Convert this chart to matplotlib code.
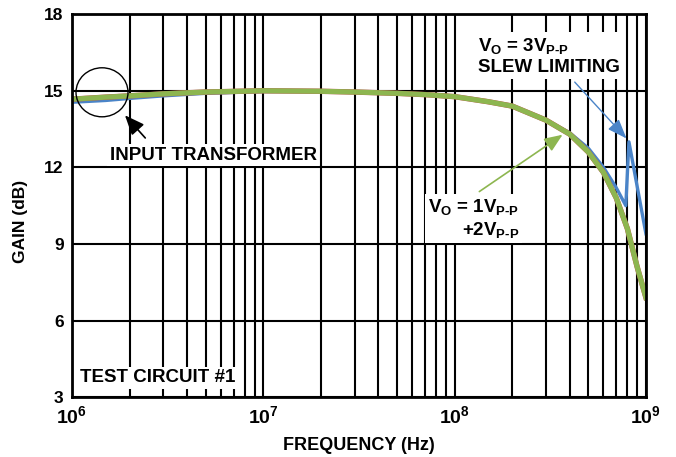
import matplotlib
matplotlib.use('Agg')
import matplotlib.pyplot as plt
from matplotlib.patches import Ellipse
from matplotlib.ticker import LogLocator, NullFormatter

plt.rcParams['font.family'] = ['Liberation Sans', 'DejaVu Sans']
plt.rcParams['font.weight'] = 'bold'
plt.rcParams['mathtext.fontset'] = 'custom'
plt.rcParams['mathtext.rm'] = 'Liberation Sans:bold'
plt.rcParams['mathtext.it'] = 'Liberation Sans:bold'
plt.rcParams['mathtext.bf'] = 'Liberation Sans:bold'
plt.rcParams['mathtext.sf'] = 'Liberation Sans:bold'

# 1Vp-p / 2Vp-p response (green, red underneath)
freq_small = [1e6, 1.5e6, 2e6, 3e6, 5e6, 1e7, 2e7, 3e7, 5e7, 7e7, 1e8, 1.5e8,
              2e8, 3e8, 4e8, 5e8, 6e8, 7e8, 8e8, 9e8, 1e9]
gain_small = [14.67, 14.75, 14.8, 14.88, 14.95, 15.0, 14.98, 14.95, 14.9, 14.85,
              14.77, 14.57, 14.4, 13.85, 13.3, 12.6, 11.8, 10.8, 9.6, 8.1, 6.9]

# 3Vp-p response (blue, slew limiting)
freq_large = [1e6, 1.5e6, 2e6, 3e6, 5e6, 1e7, 2e7, 3e7, 5e7, 7e7, 1e8, 1.5e8,
              2e8, 3e8, 4e8, 5e8, 6e8, 7e8, 7.85e8, 8.15e8, 1e9]
gain_large = [14.55, 14.62, 14.7, 14.8, 14.9, 14.97, 14.98, 14.95, 14.9, 14.85,
              14.77, 14.57, 14.4, 13.85, 13.35, 12.75, 12.0, 11.2, 10.5, 13.0, 9.4]

x_ticks = [1e6, 1e7, 1e8, 1e9]
x_labels = ['$10^6$', '$10^7$', '$10^8$', '$10^9$']
y_ticks = [3, 6, 9, 12, 15, 18]

fig = plt.figure(figsize=(6.76, 4.57), dpi=100)
ax = fig.add_axes([0.1065, 0.131, 0.849, 0.838])

ax.set_xscale('log')
ax.set_xlim(1e6, 1e9)
ax.set_ylim(3, 18)
ax.set_yticks(y_ticks)
ax.set_xticks(x_ticks)
ax.set_xticklabels(x_labels, fontsize=14)
ax.xaxis.set_minor_locator(LogLocator(base=10, subs=range(2, 10)))
ax.xaxis.set_minor_formatter(NullFormatter())
ax.grid(axis='x', which='both', color='black', lw=1.5)
ax.grid(axis='y', which='major', color='black', lw=1.5)
ax.tick_params(which='both', length=0)
ax.tick_params(axis='y', pad=6, labelsize=12.5)
ax.tick_params(axis='x', pad=6)
for s in ax.spines.values():
    s.set_linewidth(2)
    s.set_zorder(10)

ax.plot(freq_large, gain_large, color='#4A84C8', lw=2.4, zorder=4)
ax.plot(freq_small, gain_small, color='#C0504D', lw=3.9, zorder=5)
ax.plot(freq_small, gain_small, color='#8DB650', lw=3.7, zorder=6)

ax.set_xlabel('FREQUENCY (Hz)', fontsize=13, fontweight='bold', labelpad=7)
ax.set_ylabel('GAIN (dB)', fontsize=12.5, fontweight='bold')
ax.yaxis.set_label_coords(-0.077, 0.46)

box = dict(facecolor='white', edgecolor='none', pad=2)

ax.add_patch(Ellipse((0.0523, 0.796), 0.0906, 0.128, transform=ax.transAxes,
                     fill=False, edgecolor='black', lw=1, zorder=7))
ax.annotate('', xy=(1.85e6, 14.12), xytext=(2.47e6, 13.07),
            arrowprops=dict(arrowstyle='-|>,head_length=1.2,head_width=0.5',
                            color='black', lw=1.2), zorder=8)
ax.text(5.46e6, 12.48, 'INPUT TRANSFORMER', fontsize=13.5, fontweight='bold',
        ha='center', va='center', bbox=box, zorder=3)

ax.text(1.1e6, 3.75, 'TEST CIRCUIT #1', fontsize=13.5, fontweight='bold',
        ha='left', va='center', bbox=box, zorder=3)

ax.annotate('', xy=(8.1e8, 13.05), xytext=(4.15e8, 15.42),
            arrowprops=dict(arrowstyle='-|>,head_length=1.2,head_width=0.45',
                            color='#4A84C8', lw=1.0), zorder=8)
ax.text(1.32e8, 16.36, '$V_O$ = 3$V_{\\text{P-P}}$\nSLEW LIMITING', fontsize=13.5,
        ha='left', va='center', linespacing=1.2, bbox=box, zorder=3)

ax.annotate('', xy=(3.77e8, 13.34), xytext=(1.31e8, 10.99),
            arrowprops=dict(arrowstyle='-|>,head_length=1.1,head_width=0.45',
                            color='#8DB650', lw=1.2), zorder=8)
ax.text(7.26e7, 10.0, '$V_O$ = 1$V_{\\text{P-P}}$\n+2$V_{\\text{P-P}}$', fontsize=13.5,
        ha='left', va='center', multialignment='right', linespacing=1.2,
        bbox=box, zorder=3)

fig.savefig('out.png', dpi=100)
